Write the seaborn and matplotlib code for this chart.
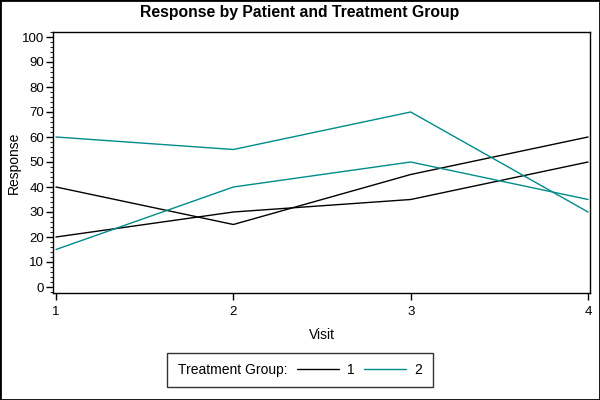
import matplotlib
matplotlib.use("Agg")
import matplotlib.pyplot as plt
import seaborn as sns
import pandas as pd
from matplotlib.lines import Line2D
from matplotlib.patches import Rectangle
from matplotlib.ticker import MultipleLocator

visits = [1, 2, 3, 4]
patients = ["A", "B", "C", "D"]
groups = [1, 1, 2, 2]
resp_A = [40, 25, 45, 60]
resp_B = [20, 30, 35, 50]
resp_C = [60, 55, 70, 30]
resp_D = [15, 40, 50, 35]
group_colors = {1: "#000000", 2: "#008B8B"}

rows = []
for pid, grp, vals in zip(patients, groups, [resp_A, resp_B, resp_C, resp_D]):
    for v, r in zip(visits, vals):
        rows.append({"Visit": v, "Response": r, "Patient": pid, "Group": grp})
df = pd.DataFrame(rows)

sns.set_style("white")
plt.rcParams["font.family"] = ["Liberation Sans", "DejaVu Sans"]
plt.rcParams["text.color"] = "black"
plt.rcParams["axes.labelcolor"] = "black"

fig = plt.figure(figsize=(6, 4), dpi=100)
ax = fig.add_axes([53 / 600, 1 - 293 / 400, (590 - 53) / 600, (293 - 32) / 400])

sns.lineplot(data=df, x="Visit", y="Response", hue="Group", units="Patient",
             estimator=None, palette=group_colors, linewidth=1.0, ax=ax, legend=False)

ax.set_xlim(0.983, 4.011)
ax.set_ylim(-2.4, 102)
ax.set_xticks(visits)
ax.set_yticks(range(0, 101, 10))
ax.yaxis.set_minor_locator(MultipleLocator(2))
ax.tick_params(axis="both", which="major", direction="out", length=5, width=1,
               labelsize=9.5, colors="black", left=True, bottom=True, pad=1.5)
ax.tick_params(axis="x", which="major", pad=4.5)
ax.tick_params(axis="y", which="minor", direction="out", length=2.5, width=0.8, left=True)
for s in ax.spines.values():
    s.set_color("black")
    s.set_linewidth(1.0)
ax.set_xlabel("Visit", fontsize=10, labelpad=7)
ax.set_ylabel("Response", fontsize=10)
ax.yaxis.set_label_coords(-(53 - 21) / 537, 0.5)

fig.text(0.5, 1 - 12 / 400, "Response by Patient and Treatment Group",
         ha="center", va="center", fontsize=11.3, fontweight="bold", color="black")

handles = [Line2D([], [], color=group_colors[1], lw=1.0),
           Line2D([], [], color=group_colors[2], lw=1.0)]
leg = fig.legend(handles, ["1", "2"], ncol=2, title="Treatment Group:",
                 loc="center", bbox_to_anchor=(300 / 600, 1 - 370 / 400),
                 fontsize=10, title_fontsize=10, frameon=True, fancybox=False,
                 edgecolor="black", handlelength=3.0, handletextpad=0.6,
                 columnspacing=1.15, borderpad=0.75, borderaxespad=0)
leg.get_frame().set_linewidth(1.0)
box = leg.get_children()[0]
title_box = box.get_children()[0]
hpack = box.get_children()[1]
box._children = [hpack]
hpack._children = [title_box] + hpack.get_children()
hpack.sep = 7

fig.patches.append(Rectangle((0, 0), 1, 1, transform=fig.transFigure, fill=False,
                             edgecolor="black", linewidth=2))

fig.savefig("out.png", dpi=100)
